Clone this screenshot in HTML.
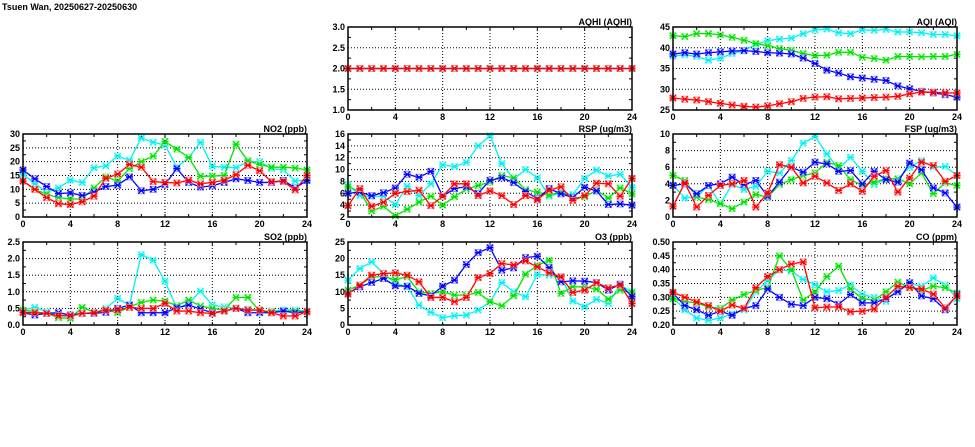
<!DOCTYPE html>
<html><head><meta charset="utf-8"><style>
html,body{margin:0;padding:0;background:#fff;width:975px;height:447px;overflow:hidden}
svg{display:block}
text{font-family:"Liberation Sans",sans-serif;font-weight:bold;font-size:9px;fill:#000}
</style></head><body>
<svg id="chart" width="975" height="447">
<text x="2" y="10" font-size="10">Tsuen Wan, 20250627-20250630</text>
</svg>
<script>
const hours = [0,1,2,3,4,5,6,7,8,9,10,11,12,13,14,15,16,17,18,19,20,21,22,23,24];
const seriesColors = ["#00f0f0","#00e000","#0000ff","#ff0000"];
const seriesLight = ["#a0ffff","#a0ffa0","#9090ff","#ff9090"];

const aqhiCyan = Array(25).fill(2), aqhiGreen = Array(25).fill(2), aqhiBlue = Array(25).fill(2), aqhiRed = Array(25).fill(2);
const aqhiTicks = [1.0,1.5,2.0,2.5,3.0];

const aqiCyan = [38,38.3,37.9,37,37.5,38.6,39.3,40.8,41.7,42.1,42.3,43.4,44.3,44.5,43.6,43.4,44.3,44.2,44.4,43.8,43.8,43.6,43.2,43.2,42.9];
const aqiGreen = [42.9,42.7,43.4,43.4,43.1,42.5,41.8,41,40.5,39.8,39.4,38.6,38.1,38.2,38.9,38.9,37.7,37.4,37,37.9,37.9,37.8,37.9,37.9,38.4];
const aqiBlue = [38.5,38.8,38.5,38.8,39,39.2,39.3,39.1,38.8,38.7,38.5,37.5,36.2,34.6,33.9,33,32.7,32.4,32.1,30.8,30.1,29.5,29.1,28.7,28.1];
const aqiRed = [27.9,27.6,27.4,27,26.6,26.2,25.9,25.7,26,26.5,27,27.8,28.1,28.2,27.7,27.8,27.9,28,28.1,28.3,28.9,29.3,29.3,29.1,29.1];
const aqiTicks = [25,30,35,40,45];

const no2Cyan = [15.5,12,9,10.5,13.3,12.5,17.8,18.5,22,20.5,28.5,27,26,18,21.5,27,18.3,18,17.8,20,20,17.5,17,13,13.5];
const no2Green = [13,10,8.2,7,6.5,6.5,10.5,14.5,13,17.5,20,22,27.3,24.5,21.5,14.7,14.8,15,26.3,20.3,19,18,18,17.7,17];
const no2Blue = [17,13.8,11,8.5,8.7,7.8,9,11,11.5,14.5,9.5,10,11.7,17.5,12.5,10.8,11.3,12.5,13.8,13.2,12.5,12.5,13.2,10.5,13.2];
const no2Red = [13,10,7,4.8,4.5,5.5,7.5,14,15.5,19,18,12.8,12.5,12.3,13.3,12,12.5,13.3,15.3,18.7,16.7,12.8,12.8,9.8,15];
const no2Ticks = [0,5,10,15,20,25,30];

const rspCyan = [7.5,5.6,5.5,5.5,4.1,7.2,5.6,7.6,10.8,10.5,11.2,14,15.7,11,8.4,10,8.6,5.5,6.1,5.8,8.5,9.9,8.9,9.2,7];
const rspGreen = [7.1,6.3,3,3.8,2.2,3.3,4.5,5.5,4,5.4,6.7,7.3,7.9,9,8.6,6.6,6.2,5.7,6.2,5.2,5.4,6.5,5.2,6.9,5.9];
const rspBlue = [6,6.2,5.6,6.1,6.9,9.2,8.7,9.7,5.5,6.8,7.1,6,8.2,8.6,7.8,6.3,5.1,6.8,5.9,5.3,7,6.4,4.1,4.2,4];
const rspRed = [3.9,6.8,3.8,4.5,6,6.3,6.5,3.9,5.5,7.6,7.6,5.6,6.4,5.6,4.1,5.6,4.9,6.5,7.1,4.8,5.6,7.7,7.6,5.5,8.5];
const rspTicks = [2,4,6,8,10,12,14,16];

const fspCyan = [3.8,2.3,2.4,3.8,1.6,3.9,3.3,3.7,5.5,5.3,6.8,8.9,9.7,7.6,5.8,7.2,5.5,3.9,4.6,4.6,6,6.8,6,6.1,5];
const fspGreen = [5,4.4,2.4,2.1,1.6,1,1.8,2.7,2.4,3.9,4.5,5,5.3,6.6,6.2,4.5,3.8,4.2,4.6,4.6,4,5.3,2.8,4.1,3.8];
const fspBlue = [3.8,4,2.8,3.8,4,4.8,3.9,4.4,2.5,4.2,6,5.4,6.6,6.4,5.5,5.6,4,5.5,4.5,4.2,6.5,5.7,3.5,2.9,1.2];
const fspRed = [1.3,4.1,1.2,2.6,3.8,4,4.4,1.2,2.9,6.3,6,4.1,4.9,4.1,3.2,4,3.1,4.9,5.6,3,4.7,6.6,6.2,4.3,5];
const fspTicks = [0,2,4,6,8,10];

const so2Cyan = [0.45,0.53,0.4,0.3,0.25,0.35,0.37,0.5,0.8,0.6,2.12,1.95,1.32,0.5,0.65,1.02,0.6,0.55,0.5,0.48,0.42,0.42,0.45,0.45,0.42];
const so2Green = [0.45,0.4,0.35,0.22,0.2,0.53,0.38,0.45,0.37,0.55,0.68,0.75,0.72,0.58,0.75,0.57,0.5,0.45,0.83,0.83,0.42,0.4,0.42,0.42,0.4];
const so2Blue = [0.37,0.3,0.35,0.37,0.3,0.35,0.35,0.38,0.5,0.6,0.37,0.37,0.37,0.52,0.6,0.48,0.37,0.42,0.5,0.37,0.37,0.37,0.42,0.37,0.4];
const so2Red = [0.38,0.37,0.35,0.28,0.28,0.35,0.37,0.45,0.45,0.53,0.5,0.5,0.65,0.42,0.42,0.37,0.35,0.42,0.5,0.45,0.45,0.37,0.27,0.27,0.4];
const so2Ticks = [0.0,0.5,1.0,1.5,2.0,2.5];

const o3Cyan = [13.5,17,19,15.5,12.5,11.5,6,3.8,2.2,2.8,3,4.5,7,12.8,10,8.5,15.2,15,14.5,7.2,5.5,7.7,6.5,12,10];
const o3Green = [10.5,12,14.5,14.5,13.7,14.5,10,9.5,10,9,9,9.8,7,5.8,8.8,15.3,18,19.5,9.5,11.5,11.5,10.8,7.8,10.5,9.7];
const o3Blue = [9.5,11.5,12.8,14,11.8,11.7,9.5,8.8,11.7,13.5,18.2,21.8,23.3,16.5,17.2,20.3,20.7,17.3,13,13.3,13.2,12.8,10.5,12.3,8.5];
const o3Red = [9.3,12,15,15.5,15.7,15,13,8.3,8.3,7,8.3,14.3,15.5,18.5,18.1,19.3,17.5,15.7,14.5,9.8,10.5,12.7,11.2,12,6.5];
const o3Ticks = [0,5,10,15,20,25];

const coCyan = [0.30,0.255,0.225,0.217,0.225,0.24,0.255,0.32,0.36,0.40,0.395,0.365,0.345,0.32,0.325,0.345,0.31,0.30,0.285,0.33,0.35,0.34,0.37,0.345,0.295];
const coGreen = [0.295,0.285,0.28,0.265,0.26,0.29,0.31,0.325,0.335,0.45,0.40,0.29,0.32,0.375,0.413,0.33,0.295,0.29,0.32,0.355,0.335,0.325,0.34,0.335,0.315];
const coBlue = [0.315,0.27,0.255,0.235,0.25,0.235,0.26,0.27,0.33,0.30,0.275,0.27,0.30,0.295,0.275,0.31,0.28,0.28,0.295,0.32,0.353,0.305,0.295,0.255,0.31];
const coRed = [0.318,0.3,0.283,0.27,0.25,0.272,0.26,0.335,0.375,0.40,0.42,0.428,0.262,0.265,0.265,0.248,0.25,0.258,0.30,0.34,0.335,0.33,0.312,0.262,0.305];
const coTicks = [0.20,0.25,0.30,0.35,0.40,0.45,0.50];

const xTicks = [0,4,8,12,16,20,24];

const NS = "http://www.w3.org/2000/svg";
const svg = document.getElementById("chart");
function mk(tag, attrs, parent) {
  const e = document.createElementNS(NS, tag);
  for (const k in attrs) e.setAttribute(k, attrs[k]);
  parent.appendChild(e);
  return e;
}

function panel(key, title, left, top, series, ticks, dec) {
  const W = 284, H = 83;
  const g = mk("g", {}, svg);
  
  
  const ymin = ticks[0], ymax = ticks[ticks.length - 1];
  const xs = h => left + h / 24 * W;
  const ys = v => top + H - (v - ymin) / (ymax - ymin) * H;
  // grid
  ticks.slice(1, -1).forEach(t => {
    const l = mk("line", {x1: left, x2: left + W, y1: ys(t), y2: ys(t), stroke: "#000", "stroke-width": 1, "stroke-dasharray": "1,2"}, g);
    
    
  });
  xTicks.slice(1, -1).forEach(t => {
    const l = mk("line", {x1: xs(t), x2: xs(t), y1: top, y2: top + H, stroke: "#000", "stroke-width": 1, "stroke-dasharray": "1,2"}, g);
    
    
  });
  // minor ticks
  for (let h = 0; h <= 24; h += 2) {
    mk("line", {x1: xs(h), x2: xs(h), y1: top, y2: top + 3, stroke: "#000"}, g);
    mk("line", {x1: xs(h), x2: xs(h), y1: top + H, y2: top + H - 3, stroke: "#000"}, g);
  }
  for (let i = 0; i < ticks.length - 1; i++) {
    const m = (ticks[i] + ticks[i + 1]) / 2;
    mk("line", {x1: left, x2: left + 3, y1: ys(m), y2: ys(m), stroke: "#000"}, g);
    mk("line", {x1: left + W, x2: left + W - 3, y1: ys(m), y2: ys(m), stroke: "#000"}, g);
  }
  // tick labels
  ticks.forEach(t => {
    const tx = mk("text", {x: left - 3, y: ys(t) + 3, "text-anchor": "end"}, g);
    tx.textContent = t.toFixed(dec);
    
    
  });
  xTicks.forEach(t => {
    const tx = mk("text", {x: xs(t), y: top + H + 10, "text-anchor": "middle"}, g);
    tx.textContent = t;
    
    
  });
  const tt = mk("text", {x: left + W, y: top - 2, "text-anchor": "end", "font-size": 8.5}, g);
  tt.textContent = title;
  
  
  // series
  series.forEach((vals, si) => {
    const c = seriesColors[si], lc = seriesLight[si];
    const sg = mk("g", {}, g);
    
    
    const pts = vals.map((v, i) => xs(hours[i]) + "," + ys(v)).join(" ");
    const pl = mk("polyline", {points: pts, fill: "none", stroke: c, "stroke-width": 1.3}, sg);
    
    
    vals.forEach((v, i) => {
      const x = xs(hours[i]), y = ys(v);
      const m = mk("g", {}, sg);
      
      
      mk("rect", {x: x - 3, y: y - 3, width: 6, height: 6, fill: "none", stroke: lc, "stroke-width": 1}, m);
      mk("path", {d: `M${x-3},${y-3}L${x+3},${y+3}M${x-3},${y+3}L${x+3},${y-3}M${x-3.5},${y}L${x+3.5},${y}`, stroke: c, "stroke-width": 1.2}, m);
    });
  });
  const fr = mk("rect", {x: left, y: top, width: W, height: H, fill: "none", stroke: "#000", "stroke-width": 1.5}, g);
  
  
}

panel("aqhi", "AQHI (AQHI)", 348, 27, [aqhiCyan, aqhiGreen, aqhiBlue, aqhiRed], aqhiTicks, 1);
panel("aqi", "AQI (AQI)", 673, 27, [aqiCyan, aqiGreen, aqiBlue, aqiRed], aqiTicks, 0);
panel("no2", "NO2 (ppb)", 23, 134, [no2Cyan, no2Green, no2Blue, no2Red], no2Ticks, 0);
panel("rsp", "RSP (ug/m3)", 348, 134, [rspCyan, rspGreen, rspBlue, rspRed], rspTicks, 0);
panel("fsp", "FSP (ug/m3)", 673, 134, [fspCyan, fspGreen, fspBlue, fspRed], fspTicks, 0);
panel("so2", "SO2 (ppb)", 23, 242, [so2Cyan, so2Green, so2Blue, so2Red], so2Ticks, 1);
panel("o3", "O3 (ppb)", 348, 242, [o3Cyan, o3Green, o3Blue, o3Red], o3Ticks, 0);
panel("co", "CO (ppm)", 673, 242, [coCyan, coGreen, coBlue, coRed], coTicks, 2);
</script>
</body></html>
